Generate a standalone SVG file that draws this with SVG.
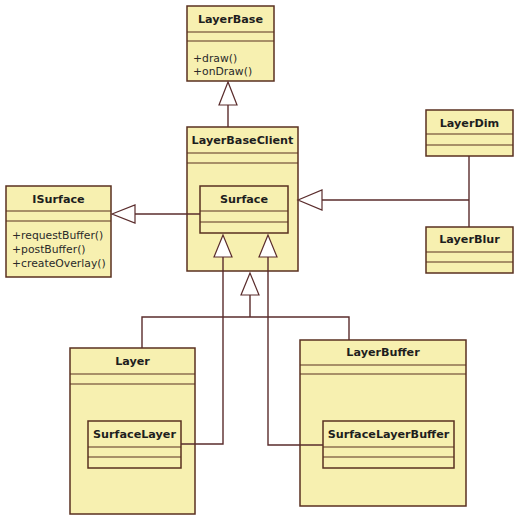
<svg xmlns="http://www.w3.org/2000/svg" width="515" height="517" viewBox="0 0 515 517">
<style>
.box{fill:#f7f0b0;stroke:#5a3020;stroke-width:1.5}
.div{stroke:#5a3020;stroke-width:1.2;fill:none}
.ln{stroke:#5a2c2c;stroke-width:1.4;fill:none}
.tri{fill:#ffffff;stroke:#5a2c2c;stroke-width:1.2}
.t{font-family:"DejaVu Sans",Verdana,sans-serif;font-weight:bold;font-size:11.2px;fill:#1e1e1e;text-anchor:middle}
.m{font-family:"DejaVu Sans",Verdana,sans-serif;font-size:10.8px;fill:#2a2a2a}
</style>
<rect width="515" height="517" fill="#ffffff"/>
<g id="LayerBase">
<rect class="box" x="187" y="6" width="87" height="75"/>
<path class="div" d="M187 32 H274 M187 41 H274"/>
<text class="t" x="230.5" y="23">LayerBase</text>
<text class="m" x="193" y="62">+draw()</text>
<text class="m" x="193" y="75">+onDraw()</text>
</g>
<g id="LayerBaseClient">
<rect class="box" x="187" y="127" width="111" height="144"/>
<path class="div" d="M187 153 H298 M187 163 H298"/>
<text class="t" x="242.5" y="144">LayerBaseClient</text>
</g>
<g id="Surface">
<rect class="box" x="200" y="186" width="88" height="47"/>
<path class="div" d="M200 211 H288 M200 222 H288"/>
<text class="t" x="244" y="203">Surface</text>
</g>
<g id="ISurface">
<rect class="box" x="6" y="186" width="105" height="91"/>
<path class="div" d="M6 211 H111 M6 221 H111"/>
<text class="t" x="58.5" y="203">ISurface</text>
<text class="m" x="12" y="239">+requestBuffer()</text>
<text class="m" x="12" y="253">+postBuffer()</text>
<text class="m" x="12" y="267">+createOverlay()</text>
</g>
<g id="LayerDim">
<rect class="box" x="426" y="110" width="87" height="46"/>
<path class="div" d="M426 134 H513 M426 145 H513"/>
<text class="t" x="469.5" y="127">LayerDim</text>
</g>
<g id="LayerBlur">
<rect class="box" x="426" y="227" width="87" height="46"/>
<path class="div" d="M426 252 H513 M426 262 H513"/>
<text class="t" x="469.5" y="243">LayerBlur</text>
</g>
<g id="Layer">
<rect class="box" x="70" y="348" width="125" height="166"/>
<path class="div" d="M70 374 H195 M70 384 H195"/>
<text class="t" x="132.5" y="365">Layer</text>
</g>
<g id="SurfaceLayer">
<rect class="box" x="88" y="421" width="93" height="47"/>
<path class="div" d="M88 447 H181 M88 457 H181"/>
<text class="t" x="134.5" y="438">SurfaceLayer</text>
</g>
<g id="LayerBuffer">
<rect class="box" x="300" y="340" width="166" height="166"/>
<path class="div" d="M300 365 H466 M300 374 H466"/>
<text class="t" x="383" y="356">LayerBuffer</text>
</g>
<g id="SurfaceLayerBuffer">
<rect class="box" x="323" y="421" width="131" height="47"/>
<path class="div" d="M323 447 H454 M323 457 H454"/>
<text class="t" x="388.5" y="438">SurfaceLayerBuffer</text>
</g>
<g id="connectors">
<path class="ln" d="M228 105 V127"/>
<path class="tri" d="M228 82 L219 105 L237 105 Z"/>
<path class="ln" d="M135 214 H200"/>
<path class="tri" d="M112 214 L135 205 L135 223 Z"/>
<path class="ln" d="M469 156 V227 M469 200 H322"/>
<path class="tri" d="M298 200 L322 190 L322 210 Z"/>
<path class="ln" d="M223 257 V444 H181"/>
<path class="tri" d="M223 235 L214 257 L232 257 Z"/>
<path class="ln" d="M268 257 V445 H323"/>
<path class="tri" d="M268 235 L259 257 L277 257 Z"/>
<path class="ln" d="M250 295 V317 M142 348 V317 H349 V340"/>
<path class="tri" d="M250 273 L241 295 L259 295 Z"/>
</g>
</svg>
